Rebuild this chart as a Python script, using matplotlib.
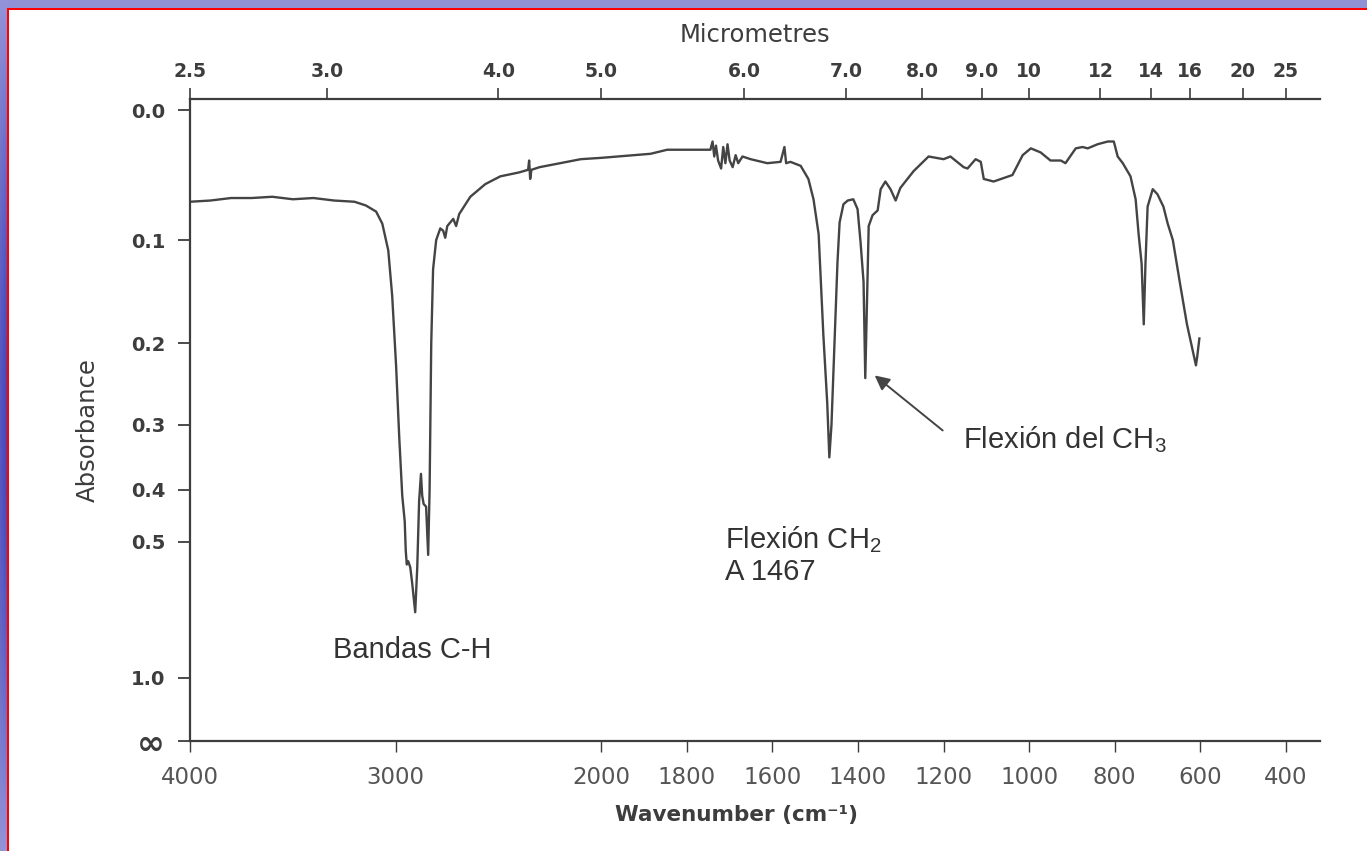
import numpy as np
import matplotlib.pyplot as plt

# Espectro IR: número de onda (cm-1) y absorbancia
numero_onda = [4000, 3900, 3800, 3700, 3600, 3500, 3400, 3300, 3200, 3145,
               3095, 3065, 3036, 3017, 2998, 2983, 2968, 2956, 2951, 2946,
               2939, 2929, 2920, 2905, 2895, 2886, 2877, 2871, 2864, 2852,
               2842, 2835, 2827, 2818, 2803, 2783, 2769, 2759, 2749, 2720,
               2706, 2691, 2637, 2564, 2491, 2400, 2356, 2351, 2346, 2340,
               2300, 2200, 2100, 2000, 1885, 1846, 1775, 1745, 1740, 1736,
               1732, 1727, 1720, 1715, 1710, 1705, 1700, 1693, 1686, 1680,
               1670, 1651, 1612, 1581, 1572, 1568, 1558, 1534, 1516, 1504,
               1492, 1481, 1472, 1467, 1462, 1455, 1448, 1443, 1434, 1424,
               1411, 1401, 1394, 1387, 1383, 1378, 1375, 1366, 1354, 1347,
               1336, 1324, 1312, 1301, 1270, 1235, 1200, 1184, 1153, 1144,
               1125, 1113, 1106, 1083, 1039, 1015, 996, 973, 950, 926,
               915, 891, 875, 863, 840, 816, 802, 793, 781, 763,
               751, 744, 737, 732, 728, 723, 711, 700, 686, 676,
               664, 647, 631, 610, 607, 602]
absorbancia = [0.068, 0.067, 0.065, 0.065, 0.064, 0.066, 0.065, 0.067, 0.068, 0.071,
               0.076, 0.086, 0.109, 0.151, 0.225, 0.315, 0.410, 0.458, 0.520, 0.553,
               0.545, 0.560, 0.600, 0.690, 0.560, 0.420, 0.373, 0.410, 0.425, 0.430,
               0.530, 0.400, 0.200, 0.126, 0.100, 0.090, 0.092, 0.098, 0.088, 0.082,
               0.088, 0.078, 0.064, 0.054, 0.048, 0.045, 0.043, 0.036, 0.050, 0.043,
               0.041, 0.038, 0.035, 0.034, 0.031, 0.028, 0.028, 0.028, 0.022, 0.033,
               0.025, 0.036, 0.042, 0.026, 0.038, 0.024, 0.036, 0.041, 0.032, 0.038,
               0.033, 0.035, 0.038, 0.037, 0.026, 0.038, 0.037, 0.040, 0.050, 0.066,
               0.095, 0.191, 0.270, 0.347, 0.300, 0.200, 0.120, 0.085, 0.070, 0.067,
               0.066, 0.074, 0.102, 0.138, 0.240, 0.138, 0.088, 0.079, 0.075, 0.058,
               0.052, 0.058, 0.067, 0.057, 0.044, 0.033, 0.035, 0.033, 0.041, 0.042,
               0.035, 0.037, 0.050, 0.052, 0.047, 0.032, 0.027, 0.030, 0.036, 0.036,
               0.038, 0.027, 0.026, 0.027, 0.024, 0.022, 0.022, 0.033, 0.038, 0.048,
               0.066, 0.095, 0.121, 0.180, 0.121, 0.072, 0.058, 0.062, 0.072, 0.086,
               0.100, 0.140, 0.180, 0.225, 0.215, 0.195]

marcas_onda = [4000, 3000, 2000, 1800, 1600, 1400, 1200, 1000, 800, 600, 400]
micrometros = [2.5, 3.0, 4.0, 5.0, 6.0, 7.0, 8.0, 9.0, 10, 12, 14, 16, 20, 25]
etiquetas_um = ['2.5', '3.0', '4.0', '5.0', '6.0', '7.0', '8.0', '9.0',
                '10', '12', '14', '16', '20', '25']
marcas_abs = [0.0, 0.1, 0.2, 0.3, 0.4, 0.5, 1.0]

plt.rcParams['mathtext.fontset'] = 'custom'
plt.rcParams['mathtext.rm'] = 'Liberation Sans'
plt.rcParams['mathtext.it'] = 'Liberation Sans:italic'

TINTA = '#3d3d3d'
K = 2.08  # cambio de escala por debajo de 2000 cm-1


def adelante(w):
    w = np.asarray(w, dtype=float)
    return np.where(w >= 2000, w, 2000 - (2000 - w) * K)


def inversa(u):
    u = np.asarray(u, dtype=float)
    return np.where(u >= 2000, u, 2000 - (2000 - u) / K)


fig = plt.figure(figsize=(13.67, 8.51), dpi=100)

# fondo de la diapositiva
fondo = fig.add_axes([0, 0, 1, 1], zorder=-10)
alto, ancho = 851, 1367
img = np.ones((alto, ancho, 3))
lav = np.array([0.57, 0.57, 0.84])
img[:8, :] = lav
filas = np.linspace(0, 1, alto)
claro = np.array([0.58, 0.58, 0.85])
oscuro = np.array([0.26, 0.26, 0.72])
mezcla = np.abs(np.sin(np.pi * filas))[:, None]
col_izq = claro * (1 - mezcla) + oscuro * mezcla
for c in range(8):
    f = 0.75 + 0.25 * (c / 7)
    img[:, c] = np.clip(col_izq * f + (1 - f) * claro, 0, 1)
img[8:10, 8:] = [1, 0, 0]
img[8:, 7:9] = [1, 0, 0]
fondo.imshow(img, aspect='auto', interpolation='nearest')
fondo.axis('off')

ax = fig.add_axes([190 / 1367, 110 / 851, 1130 / 1367, 642 / 851])
ax.set_xscale('function', functions=(adelante, inversa))
ax.set_xlim(4000, 320)

T = 10 ** (-np.array(absorbancia))
ax.plot(numero_onda, T, color='#444444', lw=1.7)
ax.set_ylim(0, 1.018)

ax.set_xticks(marcas_onda)
ax.set_xticklabels([str(m) for m in marcas_onda], fontsize=16.5, color='#555555')
ax.set_yticks([10 ** (-a) for a in marcas_abs] + [0.0])
ax.set_yticklabels(['%.1f' % a for a in marcas_abs] + ['∞'], fontsize=14,
                   fontweight='bold', color=TINTA)
ax.yaxis.get_ticklabels()[-1].set_fontsize(24)
ax.tick_params(axis='y', direction='out', length=9, width=1.3, pad=9, color=TINTA)
ax.tick_params(axis='x', direction='out', length=8, width=1.0, pad=10, color=TINTA)
for lado in ['left', 'bottom']:
    ax.spines[lado].set_linewidth(1.6)
    ax.spines[lado].set_color(TINTA)
ax.spines['right'].set_visible(False)
ax.spines['top'].set_visible(False)

# eje superior en micrómetros
sup = ax.twiny()
sup.set_xscale('function', functions=(adelante, inversa))
sup.set_xlim(4000, 320)
sup.set_xticks([10000 / m for m in micrometros])
sup.set_xticklabels(etiquetas_um, fontsize=13.5, fontweight='bold', color=TINTA)
sup.tick_params(axis='x', direction='out', length=8, width=1.2, pad=5, color=TINTA)
for lado in ['left', 'bottom', 'right']:
    sup.spines[lado].set_visible(False)
sup.spines['top'].set_linewidth(1.6)
sup.spines['top'].set_color(TINTA)
sup.set_xlabel('Micrometres', fontsize=17.5, color=TINTA, labelpad=14)

ax.set_ylabel('Absorbance', fontsize=17.5, color=TINTA)
ax.yaxis.set_label_coords(-0.080, 0.484)
ax.set_xlabel('Wavenumber (cm⁻¹)', fontsize=15.5, fontweight='bold', color=TINTA)
ax.xaxis.set_label_coords(0.484, -0.100)

# anotaciones de las bandas
estilo = dict(fontsize=21, color='#333333', family='Liberation Sans',
              transform=ax.transAxes, va='center', ha='left')
ax.text(0.1265, 0.1417, 'Bandas C-H', **estilo)
ax.text(0.4735, 0.313, 'Flexión CH$_2$', **estilo)
ax.text(0.4735, 0.263, 'A 1467', **estilo)
ax.text(0.684, 0.469, 'Flexión del CH$_3$', **estilo)

i_ch3 = numero_onda.index(1383)
ax.annotate('', xy=(numero_onda[i_ch3] - 17, T[i_ch3] + 0.007),
            xytext=(0.668, 0.481), textcoords='axes fraction',
            arrowprops=dict(arrowstyle='-|>', color='#444444', lw=1.4,
                            mutation_scale=22))

fig.savefig('out.png', dpi=100)
